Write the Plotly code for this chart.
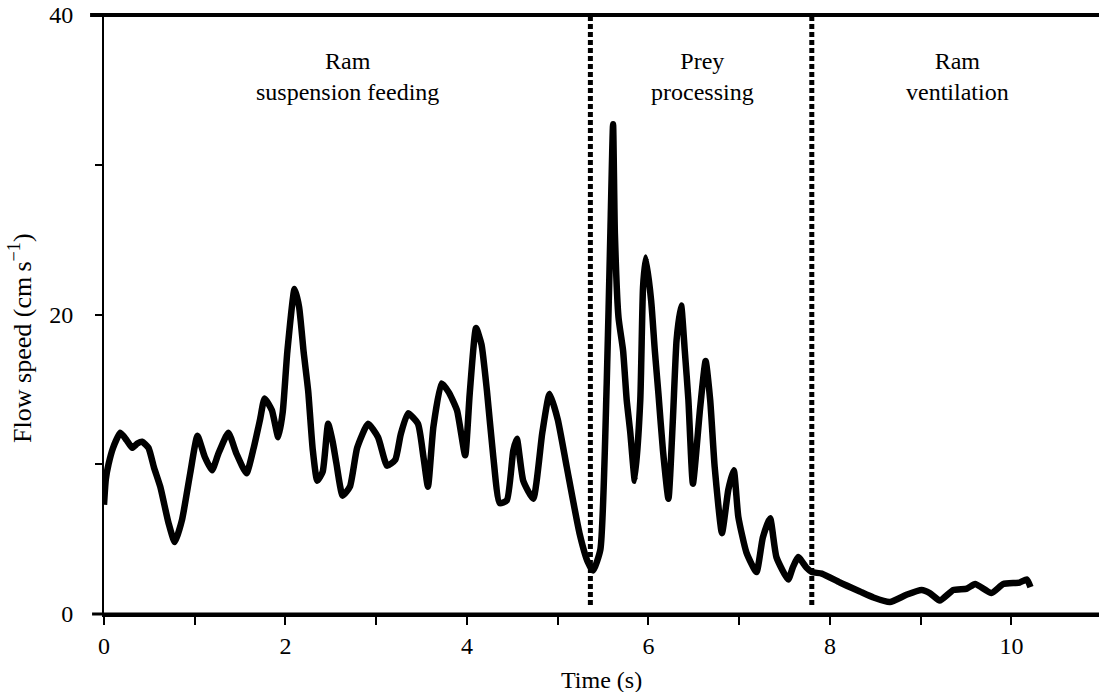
import plotly.graph_objects as go

# ---- data ----
time_s = [0.00, 0.02, 0.05, 0.10, 0.18, 0.25, 0.31, 0.37, 0.42, 0.49, 0.55, 0.62, 0.71, 0.78, 0.86,
          0.95, 1.03, 1.11, 1.19, 1.26, 1.37, 1.46, 1.57, 1.65, 1.72, 1.77, 1.85, 1.92, 1.97, 2.02,
          2.10, 2.15, 2.20, 2.25, 2.30, 2.35, 2.41, 2.47, 2.52, 2.56, 2.63, 2.71, 2.79, 2.91, 3.02,
          3.12, 3.21, 3.27, 3.35, 3.46, 3.52, 3.57, 3.63, 3.72, 3.80, 3.89, 3.98, 4.03, 4.10, 4.16,
          4.22, 4.29, 4.36, 4.44, 4.51, 4.55, 4.62, 4.73, 4.83, 4.91, 5.00, 5.10, 5.24, 5.33, 5.39,
          5.47, 5.54, 5.58, 5.61, 5.63, 5.67, 5.72, 5.76, 5.80, 5.85, 5.91, 5.94, 5.97, 6.03, 6.07,
          6.11, 6.16, 6.22, 6.27, 6.31, 6.36, 6.40, 6.44, 6.49, 6.57, 6.63, 6.68, 6.73, 6.81, 6.88,
          6.94, 6.99, 7.08, 7.19, 7.26, 7.34, 7.41, 7.54, 7.59, 7.65, 7.74, 7.80, 7.91, 8.11, 8.33,
          8.48, 8.66, 8.85, 9.01, 9.10, 9.21, 9.36, 9.51, 9.60, 9.78, 9.91, 10.09, 10.17, 10.21]
flow_speed = [7.3, 9.0, 10.0, 11.1, 12.1, 11.6, 11.1, 11.4, 11.5, 11.1, 9.8, 8.5, 6.1, 4.8, 6.3,
              9.4, 11.9, 10.5, 9.6, 10.7, 12.1, 10.7, 9.4, 11.1, 13.0, 14.4, 13.6, 11.8, 13.5, 17.5,
              21.7, 20.5, 17.5, 14.9, 11.0, 8.9, 9.5, 12.7, 11.5, 10.1, 7.9, 8.5, 11.1, 12.7, 11.8,
              9.9, 10.3, 12.0, 13.4, 12.7, 10.5, 8.5, 12.5, 15.4, 14.8, 13.6, 10.6, 14.7, 19.1, 18.0,
              14.9, 10.5, 7.4, 7.6, 10.9, 11.7, 8.9, 7.7, 12.1, 14.7, 13.0, 9.8, 5.4, 3.5, 2.9,
              4.3, 15.4, 25.4, 32.7, 25.4, 19.8, 17.6, 14.3, 12.1, 8.9, 14.3, 21.8, 23.8, 20.9, 17.6,
              14.7, 10.9, 7.7, 13.1, 18.3, 20.6, 17.6, 14.3, 8.7, 13.8, 16.9, 14.3, 9.8, 5.4, 8.3,
              9.6, 6.5, 4.1, 2.8, 5.1, 6.4, 3.8, 2.3, 3.1, 3.8, 3.1, 2.8, 2.7, 2.1, 1.5,
              1.1, 0.8, 1.3, 1.6, 1.4, 0.9, 1.6, 1.7, 2.0, 1.4, 2.0, 2.1, 2.3, 1.8]

phase_boundaries = [5.36, 7.80]
phase_labels = ["Ram<br>suspension feeding", "Prey<br>processing", "Ram<br>ventilation"]
phase_label_x = [2.68, 6.59, 9.41]

x_tick_vals = [0, 2, 4, 6, 8, 10]
x_tick_text = ["0", "2", "4", "6", "8", "10"]
x_minor_vals = [1, 3, 5, 7, 9]
y_tick_vals = [0, 20, 40]
y_tick_text = ["0", "20", "40"]
y_minor_vals = [10, 30]

FONT = "Liberation Serif, Times New Roman, serif"

fig = go.Figure()
fig.add_trace(go.Scatter(
    x=time_s, y=flow_speed, mode="lines",
    line=dict(color="black", width=6.5, shape="spline", smoothing=0.5),
    showlegend=False, hoverinfo="skip"))

for xb in phase_boundaries:
    fig.add_shape(type="line", xref="x", yref="y", x0=xb, x1=xb, y0=0.6, y1=40,
                  line=dict(color="black", width=5, dash="5px,3px"))

# top frame line and left extensions at 0 / 40 (paper refs so they are not clipped)
fig.add_shape(type="line", xref="paper", yref="paper", x0=-0.014, x1=1, y0=1, y1=1,
              line=dict(color="black", width=4))
fig.add_shape(type="line", xref="paper", yref="paper", x0=-0.012, x1=1, y0=0, y1=0,
              line=dict(color="black", width=3))

for lbl, lx in zip(phase_labels, phase_label_x):
    fig.add_annotation(x=lx, y=0.897, xref="x", yref="paper", text=lbl, showarrow=False,
                       font=dict(family=FONT, size=24, color="black"), align="center",
                       xanchor="center", yanchor="middle")

fig.add_annotation(x=0.5, y=-0.11, xref="paper", yref="paper", text="Time (s)", showarrow=False,
                   font=dict(family=FONT, size=24, color="black"), xanchor="center", yanchor="middle")
fig.add_annotation(x=-0.084, y=0.46, xref="paper", yref="paper",
                   text="Flow speed (cm\u2009s<sup>\u22121</sup>)", showarrow=False, textangle=-90,
                   font=dict(family=FONT, size=26, color="black"), xanchor="center", yanchor="middle")

fig.update_layout(
    width=1099, height=692,
    margin=dict(l=104, r=0, t=15, b=78, autoexpand=False),
    paper_bgcolor="white", plot_bgcolor="white",
    font=dict(family=FONT, size=24, color="black"),
    xaxis=dict(range=[0, 10.965], showgrid=False, zeroline=False, showline=True, linecolor="black",
               linewidth=3, ticks="outside", ticklen=8, tickwidth=2, tickcolor="black",
               tickvals=x_tick_vals, ticktext=x_tick_text, ticklabelstandoff=0, automargin=False,
               minor=dict(tickvals=x_minor_vals, ticks="outside", ticklen=8, tickwidth=2,
                          tickcolor="black", showgrid=False),
               tickfont=dict(family=FONT, size=24, color="black")),
    yaxis=dict(range=[0, 40], showgrid=False, zeroline=False, showline=True, linecolor="black",
               linewidth=2, ticks="outside", ticklen=7, tickwidth=2, tickcolor="black",
               tickvals=y_tick_vals, ticktext=y_tick_text, ticklabelstandoff=17, automargin=False,
               minor=dict(tickvals=y_minor_vals, ticks="outside", ticklen=7, tickwidth=2,
                          tickcolor="black", showgrid=False),
               tickfont=dict(family=FONT, size=24, color="black")),
)

fig.write_html("out.html", config={"displayModeBar": False},
               post_script="document.body.style.margin='0';document.body.style.overflow='hidden';")
